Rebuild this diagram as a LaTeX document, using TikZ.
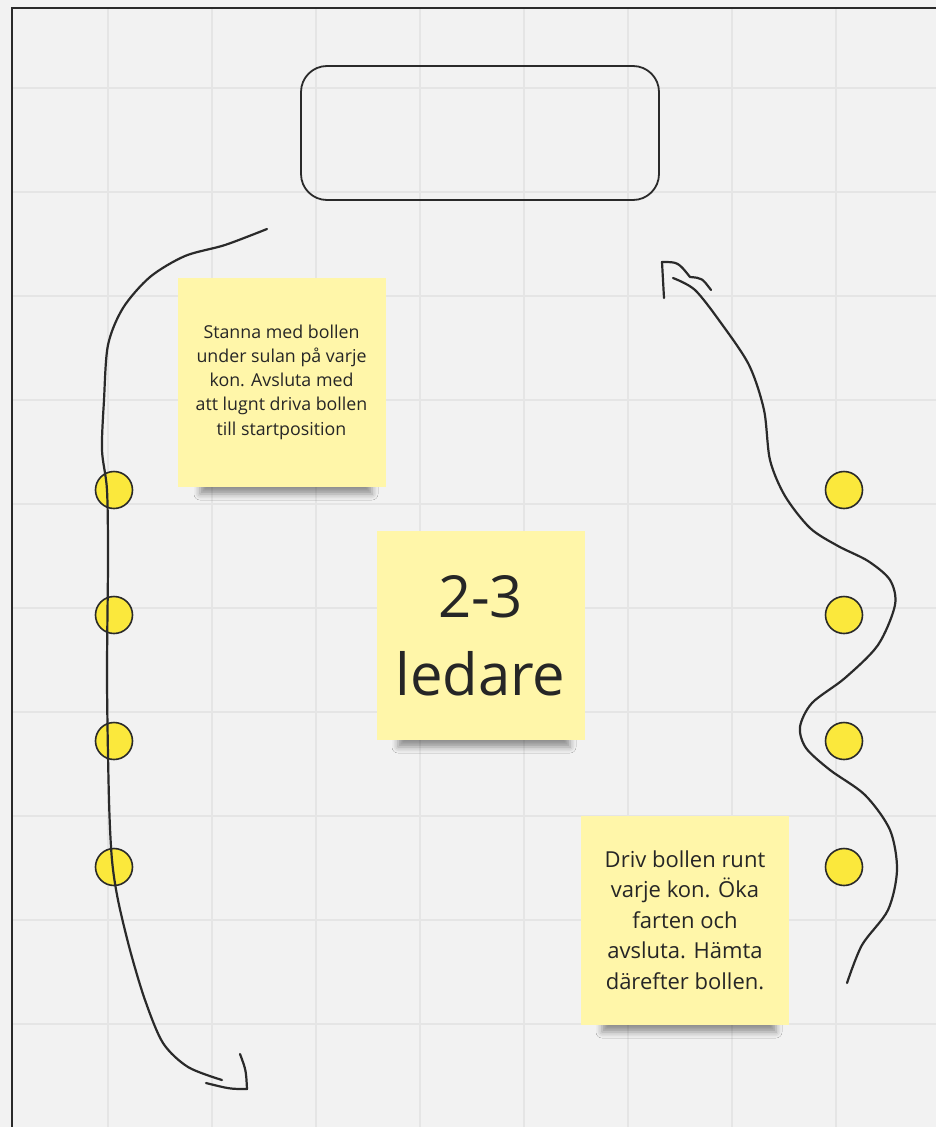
\documentclass[tikz,border=0pt]{standalone}
\usepackage{fontspec}
\setmainfont{Open Sans}
\usepackage{tikz}
\usetikzlibrary{shadows.blur}
\definecolor{bakgrund}{HTML}{F2F2F2}
\definecolor{rutnat}{HTML}{E5E5E5}
\definecolor{lappgul}{HTML}{FFF6A9}
\definecolor{kongul}{HTML}{FBE83C}
\definecolor{penna}{HTML}{2A2A2A}

\begin{document}
\begin{tikzpicture}[x=1pt,y=-1pt,
  lapp/.style={fill=lappgul, minimum width=208pt, minimum height=209pt, inner sep=0pt, align=center, text=penna!90!black},
  kon/.style={circle, draw=penna, fill=kongul, line width=1.6pt, minimum size=37pt, inner sep=0pt},
  streck/.style={draw=penna, line width=2.2pt, line cap=round, line join=round},
  skugga/.style={blur shadow={shadow xshift=0pt, shadow yshift=-6pt, shadow blur radius=6pt, shadow opacity=40}}]

\useasboundingbox (0,0) rectangle (936,1127);
\clip (0,0) rectangle (936,1127);
\fill[bakgrund] (0,0) rectangle (936,1127);
\begin{scope}
  \clip (12,8) rectangle (936,1127);
  \foreach \x in {108,212,...,836}
    \draw[rutnat, line width=1.5pt] (\x,0) -- (\x,1127);
  \foreach \y in {88,192,...,1024}
    \draw[rutnat, line width=1.5pt] (0,\y) -- (936,\y);
\end{scope}
\draw[penna, line width=2.2pt] (12,1127) -- (12,8) -- (936,8);

\node[draw=penna, line width=1.8pt, rounded corners=26pt, minimum width=358pt, minimum height=134pt] (mal) at (480,133) {};

\path[skugga] (200,474) rectangle (372,488);
\path[skugga] (398,727) rectangle (570,741);
\path[skugga] (602,1012) rectangle (776,1026);

\node[lapp, font=\fontsize{17.8}{24.2}\selectfont] (lapp1) at (281.5,382) {Stanna med bollen\\under sulan på varje\\kon. Avsluta med\\att lugnt driva bollen\\till startposition};
\node[lapp, font=\fontsize{58}{78}\selectfont] (lapp2) at (480.5,635.5) {2-3\\ledare};
\node[lapp, font=\fontsize{22}{30.5}\selectfont] (lapp3) at (685,920) {Driv bollen runt\\varje kon. Öka\\farten och\\avsluta. Hämta\\därefter bollen.};

\foreach \n/\y in {1/490,2/615,3/741,4/867} {
  \node[kon] (vkon\n) at (114,\y) {};
  \node[kon] (hkon\n) at (844,\y) {};
}

\draw[streck] plot[smooth, tension=0.5] coordinates {(267,229) (225,245) (185,256) (150,277) (123,308) (108,345) (104,400) (102,450) (107,490) (108,560) (107,680) (109,800) (112,860) (118,900) (130,950) (145,1000) (163,1043) (188,1067) (222,1080)};
\draw[streck] (240,1054) .. controls (246,1070) .. (247,1089) .. controls (230,1089) .. (206,1083);

\draw[streck] plot[smooth, tension=0.5] coordinates {(847,983) (862,945) (888,910) (897,870) (890,830) (865,795) (830,770) (806,748) (800,727) (812,703) (845,678) (878,645) (895,605) (890,580) (868,561) (838,546) (810,528) (785,496) (770,460) (764,410) (749,365) (721,323) (695,290) (673,278)};
\draw[streck] (664,298) -- (662,262) .. controls (678,262) .. (690,277) .. controls (702,278) .. (711,290);
\end{tikzpicture}
\end{document}
